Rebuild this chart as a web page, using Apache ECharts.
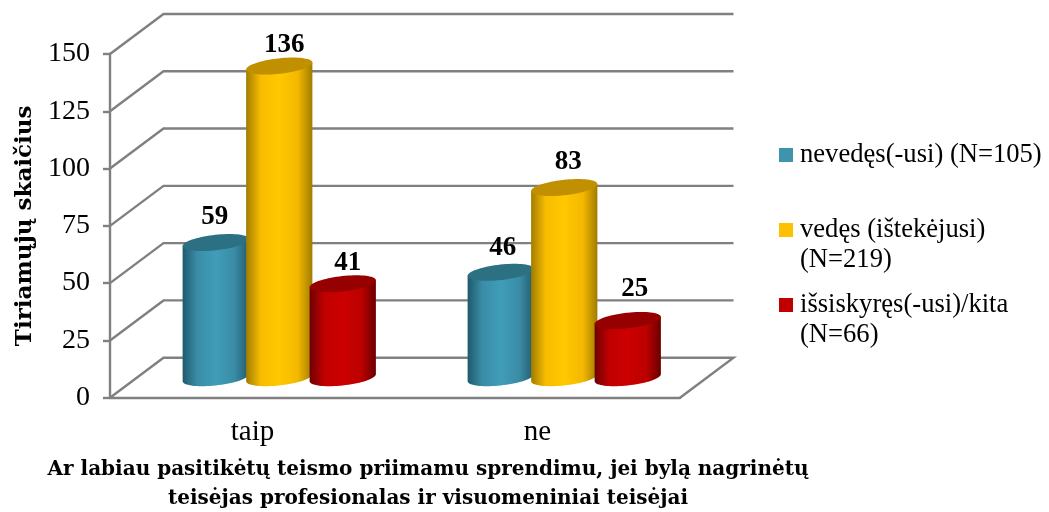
<!DOCTYPE html>
<html>
<head>
<meta charset="utf-8">
<style>html,body{margin:0;padding:0;background:#fff}#c{width:1049px;height:512px}</style>
<script src="https://cdn.jsdelivr.net/npm/echarts@6/dist/echarts.min.js"></script>
</head>
<body>
<div id="c"></div>
<script>
const categories = ['taip', 'ne'];
const seriesNames = ['nevedęs(-usi) (N=105)', 'vedęs (ištekėjusi)\n(N=219)', 'išsiskyręs(-usi)/kita\n(N=66)'];
const nevedes = [59, 46];
const vedes = [136, 83];
const issiskyres = [41, 25];
const yTicks = [0, 25, 50, 75, 100, 125, 150];
const yTitle = 'Tiriamųjų skaičius';
const xTitle = 'Ar labiau pasitikėtų teismo priimamu sprendimu, jei bylą nagrinėtų\nteisėjas profesionalas ir visuomeniniai teisėjai';

const FONT = '"Liberation Serif", serif';
const TITLE_FONT = '"DejaVu Serif", serif';
const GRID = '#808080';
const DEPTH_X = 53.5, DEPTH_Y = -40;
const STEP = 63.5 / 285, WIDTH = 66.4 / 285;
const LABEL_NUDGE = [[[-1, -25], [5, -21], [5, -21]], [[2, -24], [4, -25], [7, -31]]];

const palettes = [
  {legend: '#3d94ad', cap: '#2c7083', stops: ['#1f5a6c', '#3a8ca6', '#409db8', '#3a8ca6', '#235c6d']},
  {legend: '#ffc000', cap: '#c09000', stops: ['#a07c00', '#f8bc00', '#ffc800', '#f4b800', '#a07c00']},
  {legend: '#c00000', cap: '#960000', stops: ['#6e0000', '#c00000', '#cc0000', '#bc0000', '#6a0000']}
];

function bodyFill(stops) {
  return {type: 'linear', x: 0, y: 0, x2: 1, y2: 0, colorStops: [
    {offset: 0, color: stops[0]}, {offset: 0.22, color: stops[1]}, {offset: 0.5, color: stops[2]},
    {offset: 0.78, color: stops[3]}, {offset: 1, color: stops[4]}
  ]};
}

function cylinder(si) {
  return function (params, api) {
    const cat = api.value(0), val = api.value(1);
    const band = api.size([1, 0])[0];
    const top = api.coord([cat, val]);
    const base = api.coord([cat, 0]);
    const cx = top[0] + (si - 1) * STEP * band + DEPTH_X / 2;
    const yTop = top[1] + DEPTH_Y / 2, yBase = base[1] + DEPTH_Y / 2;
    const half = WIDTH * band / 2;
    const a = half * 0.91, b = half * 0.41, c = 8.5;
    const t0 = Math.atan2(b, a);
    const pt = (t, y) => [cx + a * Math.cos(t) + b * Math.sin(t), y - c * Math.sin(t)];
    const cap = [], body = [];
    for (let i = 0; i < 72; i++) cap.push(pt(i / 72 * 2 * Math.PI, yTop));
    body.push(pt(t0, yTop), pt(t0 + Math.PI, yTop));
    for (let i = 0; i <= 36; i++) body.push(pt(t0 + Math.PI + i / 36 * Math.PI, yBase));
    const n = LABEL_NUDGE[cat][si];
    return {type: 'group', children: [
      {type: 'polygon', shape: {points: body}, style: {fill: bodyFill(palettes[si].stops)}},
      {type: 'polygon', shape: {points: cap}, style: {fill: palettes[si].cap}},
      {type: 'text', style: {text: String(val), x: cx + n[0], y: yTop + n[1], align: 'center', verticalAlign: 'middle',
        font: 'bold 27px ' + FONT, fill: '#000'}}
    ]};
  };
}

function wallLines(params, api) {
  const v = api.value(1);
  const cs = params.coordSys;
  const y = api.coord([0, v])[1];
  const x0 = cs.x, x1 = cs.x + cs.width;
  const lineStyle = {stroke: GRID, lineWidth: 2.4, fill: null};
  const pts = [[x0, y], [x0 + DEPTH_X, y + DEPTH_Y], [x1 + DEPTH_X, y + DEPTH_Y]];
  if (v === 0) pts.push([x1, y]);
  return {type: 'polyline', shape: {points: pts}, style: lineStyle};
}

const values = [nevedes, vedes, issiskyres];
const series = [{
  type: 'custom', name: 'wall', silent: true, z: 1, clip: false,
  renderItem: wallLines, data: yTicks.map(v => [0, v]), encode: {x: 0, y: 1}
}].concat(values.map((vals, si) => ({
  type: 'custom', name: seriesNames[si], z: 3 + si, clip: false,
  renderItem: cylinder(si),
  itemStyle: {color: palettes[si].legend},
  data: vals.map((v, i) => [i, v]), encode: {x: 0, y: 1}
})));

const legendText = {fontFamily: FONT, fontSize: 26.6, color: '#000', lineHeight: 30, padding: [0, 0, 0, 2]};
const twoLineIcon = 'path://M0,0H14V14H0Z M0,44H14V44H0Z';

const chart = echarts.init(document.getElementById('c'), null, {renderer: 'canvas'});
chart.setOption({
  animation: false,
  backgroundColor: '#fff',
  grid: {left: 110, top: 54, width: 570, height: 343.7, containLabel: false, outerBoundsMode: 'none'},
  legend: [
    {left: 779, top: 140, padding: 0, orient: 'vertical', data: [seriesNames[0]], icon: 'rect', itemWidth: 14, itemHeight: 14,
      textStyle: legendText, selectedMode: false},
    {left: 779, top: 215, padding: 0, orient: 'vertical', itemGap: 15, data: [seriesNames[1], seriesNames[2]], icon: twoLineIcon,
      itemWidth: 14, itemHeight: 44, textStyle: legendText, selectedMode: false}
  ],
  xAxis: {
    type: 'category', data: categories, boundaryGap: true,
    axisLine: {show: true, lineStyle: {color: GRID, width: 2.4}},
    axisTick: {show: false},
    axisLabel: {fontFamily: FONT, fontSize: 29, color: '#000', margin: 20},
    name: xTitle, nameLocation: 'middle', nameGap: 58,
    nameTextStyle: {fontFamily: TITLE_FONT, fontWeight: 'bold', fontSize: 20, color: '#000', lineHeight: 29, padding: [0, 0, 0, 66]}
  },
  yAxis: {
    type: 'value', min: 0, max: 150, interval: 25,
    axisLine: {show: true, lineStyle: {color: GRID, width: 2.4}},
    axisTick: {show: true, length: 7, lineStyle: {color: GRID, width: 2.4}},
    splitLine: {show: false},
    axisLabel: {fontFamily: FONT, fontSize: 28, color: '#000', margin: 20, padding: [8, 0, 0, 0]},
    name: yTitle, nameLocation: 'middle', nameRotate: 90, nameGap: 73,
    nameTextStyle: {fontFamily: TITLE_FONT, fontWeight: 'bold', fontSize: 23, color: '#000'}
  },
  series: series
});
</script>
</body>
</html>
